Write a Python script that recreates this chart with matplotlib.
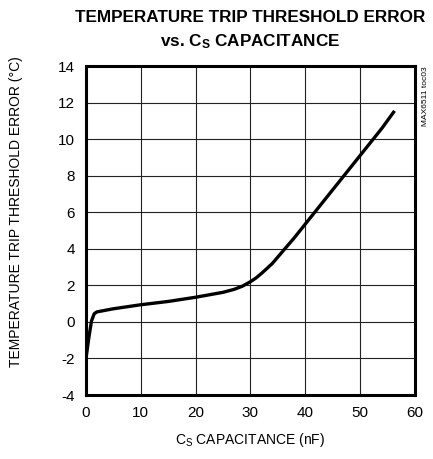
import numpy as np
import matplotlib
matplotlib.use('Agg')
import matplotlib.pyplot as plt

plt.rcParams['font.family'] = ['Liberation Sans Narrow', 'Liberation Sans', 'DejaVu Sans']
plt.rcParams['mathtext.default'] = 'regular'
plt.rcParams['axes.unicode_minus'] = False

# 读图得到的数据
cap_nf = [0, 0.5, 1.0, 1.5, 2, 5, 10, 15, 20, 25, 27, 28.5, 30, 31, 32, 33, 34, 35, 36,
          38, 40, 42, 44, 46, 48, 50, 52, 54, 56.3]
err_c = [-2.0, -0.9, 0.05, 0.45, 0.55, 0.72, 0.94, 1.12, 1.35, 1.62, 1.78, 1.95, 2.2,
         2.4, 2.65, 2.92, 3.2, 3.55, 3.9, 4.6, 5.35, 6.1, 6.85, 7.6, 8.35, 9.1, 9.85,
         10.6, 11.55]
x_ticks = [0, 10, 20, 30, 40, 50, 60]
y_ticks = [-4, -2, 0, 2, 4, 6, 8, 10, 12, 14]

fig = plt.figure(figsize=(4.33, 4.59), dpi=100)
ax = fig.add_axes([0.1986, 0.1394, 0.7594, 0.7166])

ax.plot(cap_nf, err_c, color='k', linewidth=2.4, solid_capstyle='butt')

ax.set_xlim(0, 60)
ax.set_ylim(-4, 14)
ax.set_xticks(x_ticks)
ax.set_yticks(y_ticks)
ax.grid(True, color='#222222', linewidth=0.8)
ax.tick_params(length=0, labelsize=11, pad=8)
for s in ax.spines.values():
    s.set_linewidth(2.2)

fig.text(0.578, 0.962, 'TEMPERATURE TRIP THRESHOLD ERROR', ha='center', va='center',
         fontsize=12.3, fontweight='bold')
fig.text(0.578, 0.909, 'vs. C$_S$ CAPACITANCE', ha='center', va='center',
         fontsize=12.3, fontweight='bold')
fig.text(0.578, 0.042, 'C$_S$ CAPACITANCE (nF)', ha='center', va='center', fontsize=10)
fig.text(0.037, 0.54, 'TEMPERATURE TRIP THRESHOLD ERROR (°C)', ha='center', va='center',
         rotation=90, fontsize=10)
fig.text(0.983, 0.79, 'MAX6511 toc03', ha='center', va='center', rotation=90, fontsize=6)

fig.savefig('out.png', dpi=100)
